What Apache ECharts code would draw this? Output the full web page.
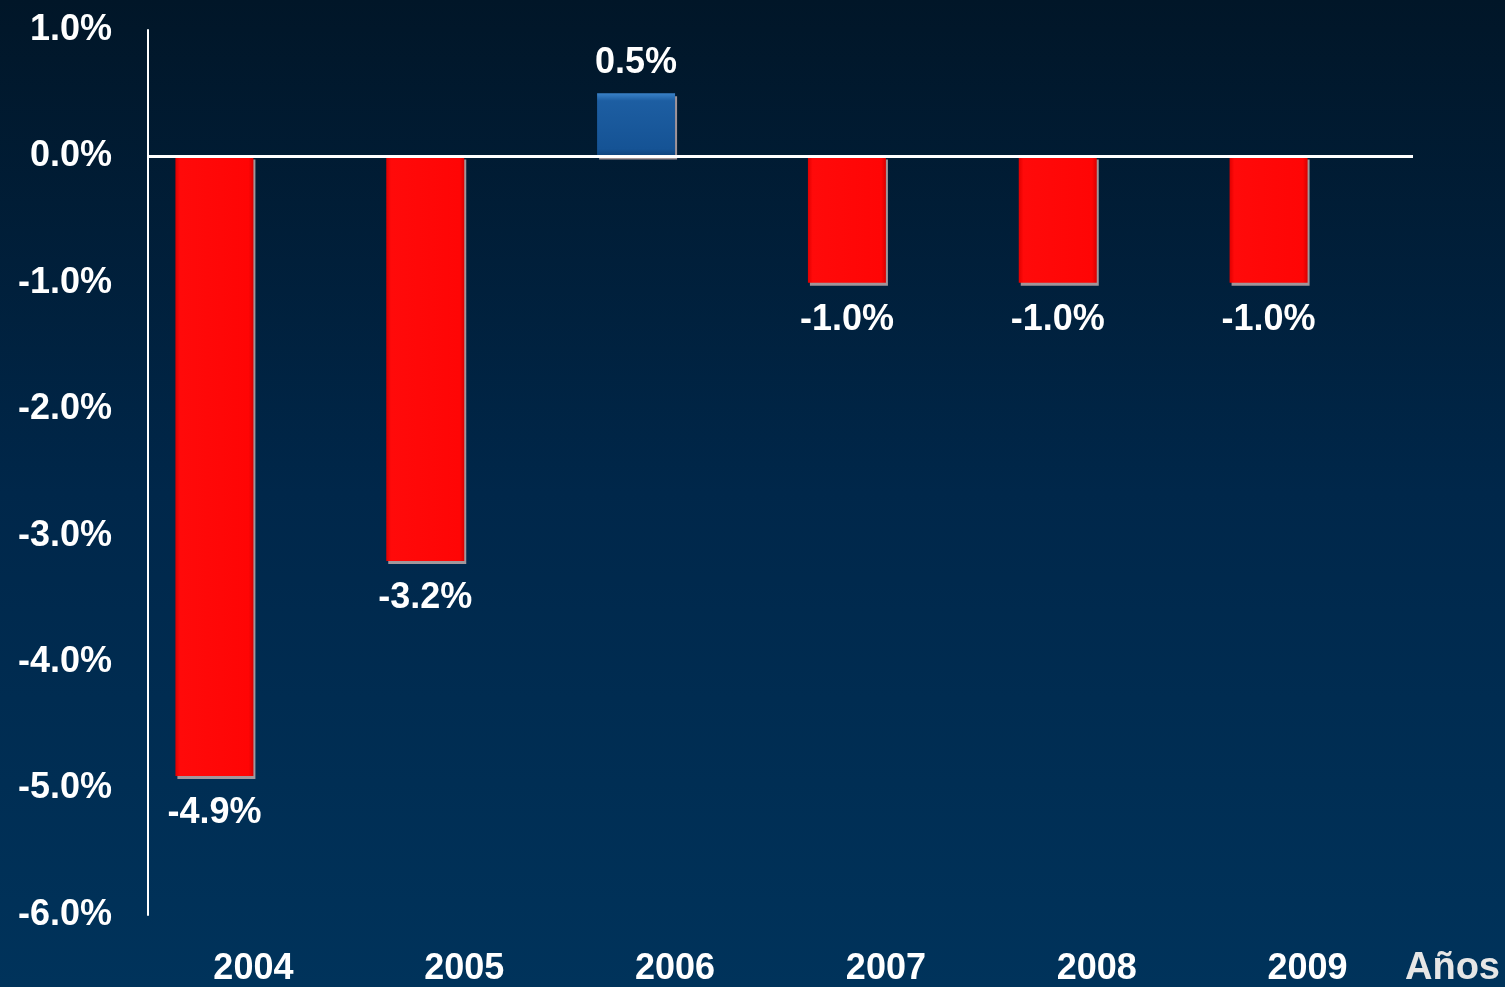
<!DOCTYPE html>
<html>
<head>
<meta charset="utf-8">
<script src="https://cdn.jsdelivr.net/npm/echarts@6/dist/echarts.min.js"></script>
<style>
  html, body { margin: 0; padding: 0; width: 1505px; height: 987px; overflow: hidden; }
  body { background: linear-gradient(to bottom, #011628 0%, #00274a 50%, #00335b 100%); }
  #chart { width: 1505px; height: 987px; }
</style>
</head>
<body>
<div id="chart"></div>
<script>
// datos
const years = ['2004', '2005', '2006', '2007', '2008', '2009'];
const values = [-4.9, -3.2, 0.5, -1.0, -1.0, -1.0];
const yTicks = { min: -6, max: 1, interval: 1 };

const red = {
  type: 'linear', x: 0, y: 0, x2: 1, y2: 0,
  colorStops: [
    { offset: 0, color: '#e00000' },
    { offset: 0.06, color: '#ff0a0a' },
    { offset: 0.94, color: '#ff0505' },
    { offset: 1, color: '#d80000' },
  ],
};
const blue = {
  type: 'linear', x: 0, y: 0, x2: 0, y2: 1,
  colorStops: [
    { offset: 0, color: '#3a82c8' },
    { offset: 0.12, color: '#1d5ea2' },
    { offset: 0.88, color: '#155395' },
    { offset: 1, color: '#0e427a' },
  ],
};

const chart = echarts.init(document.getElementById('chart'), null, { renderer: 'canvas' });

const labelFont = {
  color: '#ffffff',
  fontFamily: 'Liberation Sans, Arial, sans-serif',
  fontWeight: 'bold',
  fontSize: 36,
};

chart.setOption({
  backgroundColor: 'transparent',
  animation: false,
  grid: { left: 148, right: 92, top: 30, bottom: 71, containLabel: false },
  xAxis: {
    type: 'category',
    data: years,
    axisLine: { show: false, onZero: false },
    axisTick: { show: false },
    axisLabel: { ...labelFont, margin: 36 },
    splitLine: { show: false },
  },
  yAxis: {
    type: 'value',
    min: yTicks.min,
    max: yTicks.max,
    interval: yTicks.interval,
    axisLine: { show: true, lineStyle: { color: '#ffffff', width: 2 } },
    axisTick: { show: false },
    splitLine: { show: false },
    axisLabel: {
      ...labelFont,
      margin: 36,
      padding: [8, 0, 0, 0],
      formatter: (v) => v.toFixed(1) + '%',
    },
  },
  graphic: [
    {
      type: 'text',
      left: 1405,
      top: 950,
      style: {
        text: 'Años',
        fill: '#e6e6e6',
        font: 'bold 38px "Liberation Sans", Arial, sans-serif',
      },
    },
  ],
  series: [
    {
      type: 'bar',
      barWidth: 78,
      barGap: '0%',
      data: values.map((v) => ({
        value: v,
        itemStyle: { color: v >= 0 ? blue : red },
        label: { position: v >= 0 ? 'top' : 'bottom', distance: v >= 0 ? 12 : 19 },
      })),
      itemStyle: {
        shadowColor: 'rgba(190,170,170,0.85)',
        shadowOffsetX: 2,
        shadowOffsetY: 3,
        shadowBlur: 0,
      },
      label: {
        show: true,
        ...labelFont,
        formatter: (p) => p.value.toFixed(1) + '%',
      },
      markLine: {
        silent: true,
        symbol: 'none',
        label: { show: false },
        lineStyle: { color: '#ffffff', width: 3, type: 'solid' },
        data: [{ yAxis: 0 }],
      },
      z: 2,
    },
    {
      // serie vacía para desplazar las barras a la izquierda de cada año
      type: 'bar',
      barWidth: 78,
      data: years.map(() => null),
    },
  ],
});
</script>
</body>
</html>
